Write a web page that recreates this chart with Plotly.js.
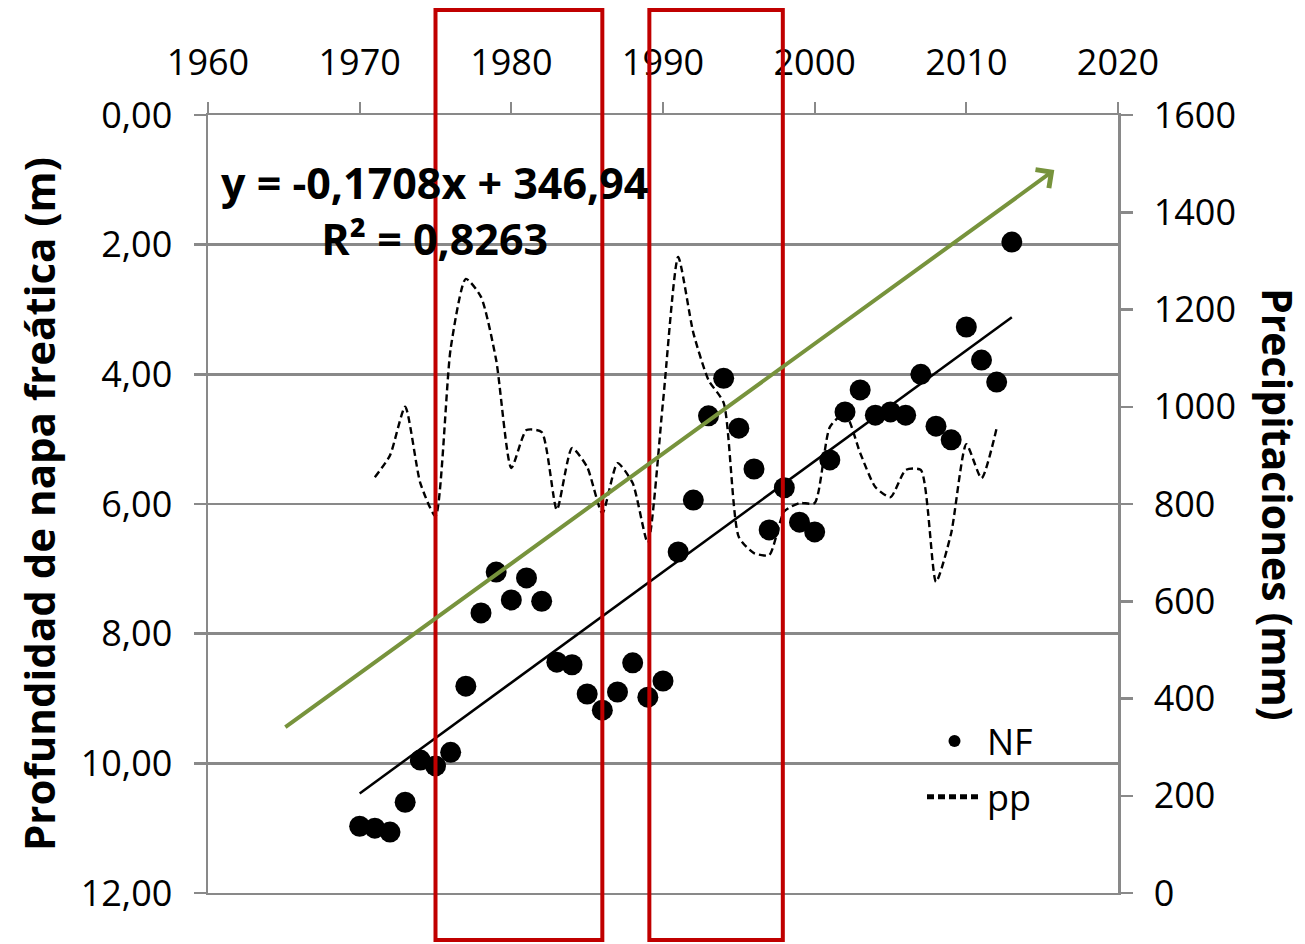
<!DOCTYPE html>
<html>
<head>
<meta charset="utf-8">
<script src="https://cdn.plot.ly/plotly-3.0.1.min.js"></script>
<style>html,body{margin:0;padding:0;background:#fff;}#chart{width:1305px;height:944px;}</style>
</head>
<body>
<div id="chart"></div>
<script>
// ---- Data ----
const nfYears = [1970,1971,1972,1973,1974,1975,1976,1977,1978,1979,1980,1981,1982,1983,1984,1985,1986,1987,1988,1989,1990,1991,1992,1993,1994,1995,1996,1997,1998,1999,2000,2001,2002,2003,2004,2005,2006,2007,2008,2009,2010,2011,2012,2013];
const nfDepth = [10.97,11.00,11.06,10.60,9.95,10.04,9.83,8.81,7.68,7.05,7.48,7.14,7.50,8.44,8.48,8.93,9.18,8.90,8.45,8.98,8.73,6.74,5.94,4.64,4.06,4.83,5.46,6.40,5.75,6.28,6.43,5.32,4.58,4.24,4.63,4.58,4.63,4.00,4.80,5.01,3.27,3.78,4.12,1.96];
const ppYears = [1971,1972,1973,1974,1975,1976,1977,1978,1979,1980,1981,1982,1983,1984,1985,1986,1987,1988,1989,1990,1991,1992,1993,1994,1995,1996,1997,1998,1999,2000,2001,2002,2003,2004,2005,2006,2007,2008,2009,2010,2011,2012];
const ppValues = [855,900,1000,843,775,1120,1263,1226,1096,874,952,948,788,915,876,781,884,843,720,1010,1308,1152,1055,1008,732,699,695,785,802,802,958,987,905,835,814,870,870,640,740,923,853,956];
const trendSlope = -0.1708;
const trendIntercept = 346.94;
const trendYears = [1970, 2013];
const equationText = "y = -0,1708x + 346,94<br>R² = 0,8263";
const arrowFrom = [1965.0, 9.46];
const arrowTo = [2015.8, 0.85];
const periodA = [1975, 1986];
const periodB = [1989.1, 1997.9];

const FONT = "Open Sans, Liberation Sans, sans-serif";
const GRAY = "#898989";

const traces = [
  {
    x: nfYears, y: nfDepth, name: "NF", type: "scatter", mode: "markers",
    marker: {color: "#000", size: 21}, yaxis: "y", xaxis: "x", legendgroup: "a"
  },
  {
    x: ppYears, y: ppValues, name: "pp", type: "scatter", mode: "lines",
    line: {color: "#000", width: 2.4, dash: "7px,4px", shape: "spline", smoothing: 0.6},
    yaxis: "y2", xaxis: "x", legendgroup: "b"
  },
  {
    x: trendYears, y: trendYears.map(t => trendSlope * t + trendIntercept),
    name: "Lineal (NF)", type: "scatter", mode: "lines",
    line: {color: "#000", width: 2.5}, showlegend: false, yaxis: "y", xaxis: "x"
  }
];

const L = 208, R = 1118, T = 115, B = 893;
const px = v => (v - L) / (R - L);

const layout = {
  width: 1305, height: 944,
  margin: {l: L, r: 1305 - R, t: T, b: 944 - B, pad: 0},
  paper_bgcolor: "#fff", plot_bgcolor: "#fff",
  separators: ",.",
  font: {family: FONT, size: 36, color: "#000"},
  showlegend: true,
  legend: {
    x: px(922), y: (B - 711) / (B - T), xanchor: "left", yanchor: "top",
    bgcolor: "rgba(0,0,0,0)", borderwidth: 0,
    font: {family: FONT, size: 36, color: "#000"},
    itemwidth: 55, tracegroupgap: 6, itemsizing: "constant"
  },
  xaxis: {
    side: "top", range: [1960, 2020], dtick: 10, tick0: 1960,
    showgrid: false, zeroline: false,
    showline: true, linecolor: GRAY, linewidth: 2, mirror: true,
    ticks: "outside", ticklen: 11, tickwidth: 2, tickcolor: GRAY,
    tickfont: {family: FONT, size: 36, color: "#000"},
    ticklabelstandoff: 13,
    anchor: "y"
  },
  yaxis: {
    range: [12, 0], dtick: 2, tick0: 0, tickformat: ".2f",
    showgrid: true, gridcolor: GRAY, gridwidth: 2.5,
    zeroline: false, showline: true, linecolor: GRAY, linewidth: 2.5,
    ticks: "outside", ticklen: 12, tickwidth: 2.5, tickcolor: GRAY,
    tickfont: {family: FONT, size: 36, color: "#000"},
    ticklabelstandoff: 14
  },
  yaxis2: {
    overlaying: "y", side: "right", range: [0, 1600], dtick: 200, tick0: 0,
    showgrid: false, zeroline: false, showline: true, linecolor: GRAY, linewidth: 2.5,
    ticks: "outside", ticklen: 12, tickwidth: 2.5, tickcolor: GRAY,
    tickfont: {family: FONT, size: 36, color: "#000"},
    ticklabelstandoff: 14
  },
  shapes: [
    {type: "rect", xref: "x", yref: "paper", x0: periodA[0], x1: periodA[1],
     y0: (B - 940) / (B - T), y1: (B - 10) / (B - T),
     line: {color: "#C00000", width: 4}, fillcolor: "rgba(0,0,0,0)", layer: "above"},
    {type: "rect", xref: "x", yref: "paper", x0: periodB[0], x1: periodB[1],
     y0: (B - 940) / (B - T), y1: (B - 10) / (B - T),
     line: {color: "#C00000", width: 4}, fillcolor: "rgba(0,0,0,0)", layer: "above"}
  ],
  annotations: [
    {
      x: arrowTo[0], y: arrowTo[1], xref: "x", yref: "y",
      ax: arrowFrom[0], ay: arrowFrom[1], axref: "x", ayref: "y",
      text: "", showarrow: true, arrowhead: 4, arrowsize: 1.1, arrowwidth: 4,
      arrowcolor: "#77933C", standoff: 0, startstandoff: 0
    },
    {
      x: px(434), y: (B - 210) / (B - T), xref: "paper", yref: "paper",
      text: "<b>" + equationText + "</b>", showarrow: false, align: "center",
      xanchor: "center", yanchor: "middle",
      font: {family: FONT, size: 43, color: "#000"}
    },
    {
      x: px(38), y: 0.5, xref: "paper", yref: "paper",
      text: "<b>Profundidad de napa freática (m)</b>", showarrow: false,
      textangle: -90, xanchor: "center", yanchor: "middle",
      font: {family: FONT, size: 42, color: "#000"}
    },
    {
      x: px(1278), y: 0.5, xref: "paper", yref: "paper",
      text: "<b>Precipitaciones (mm)</b>", showarrow: false,
      textangle: 90, xanchor: "center", yanchor: "middle",
      font: {family: FONT, size: 41, color: "#000"}
    }
  ]
};

Plotly.newPlot("chart", traces, layout, {displayModeBar: false, staticPlot: true});
</script>
</body>
</html>
